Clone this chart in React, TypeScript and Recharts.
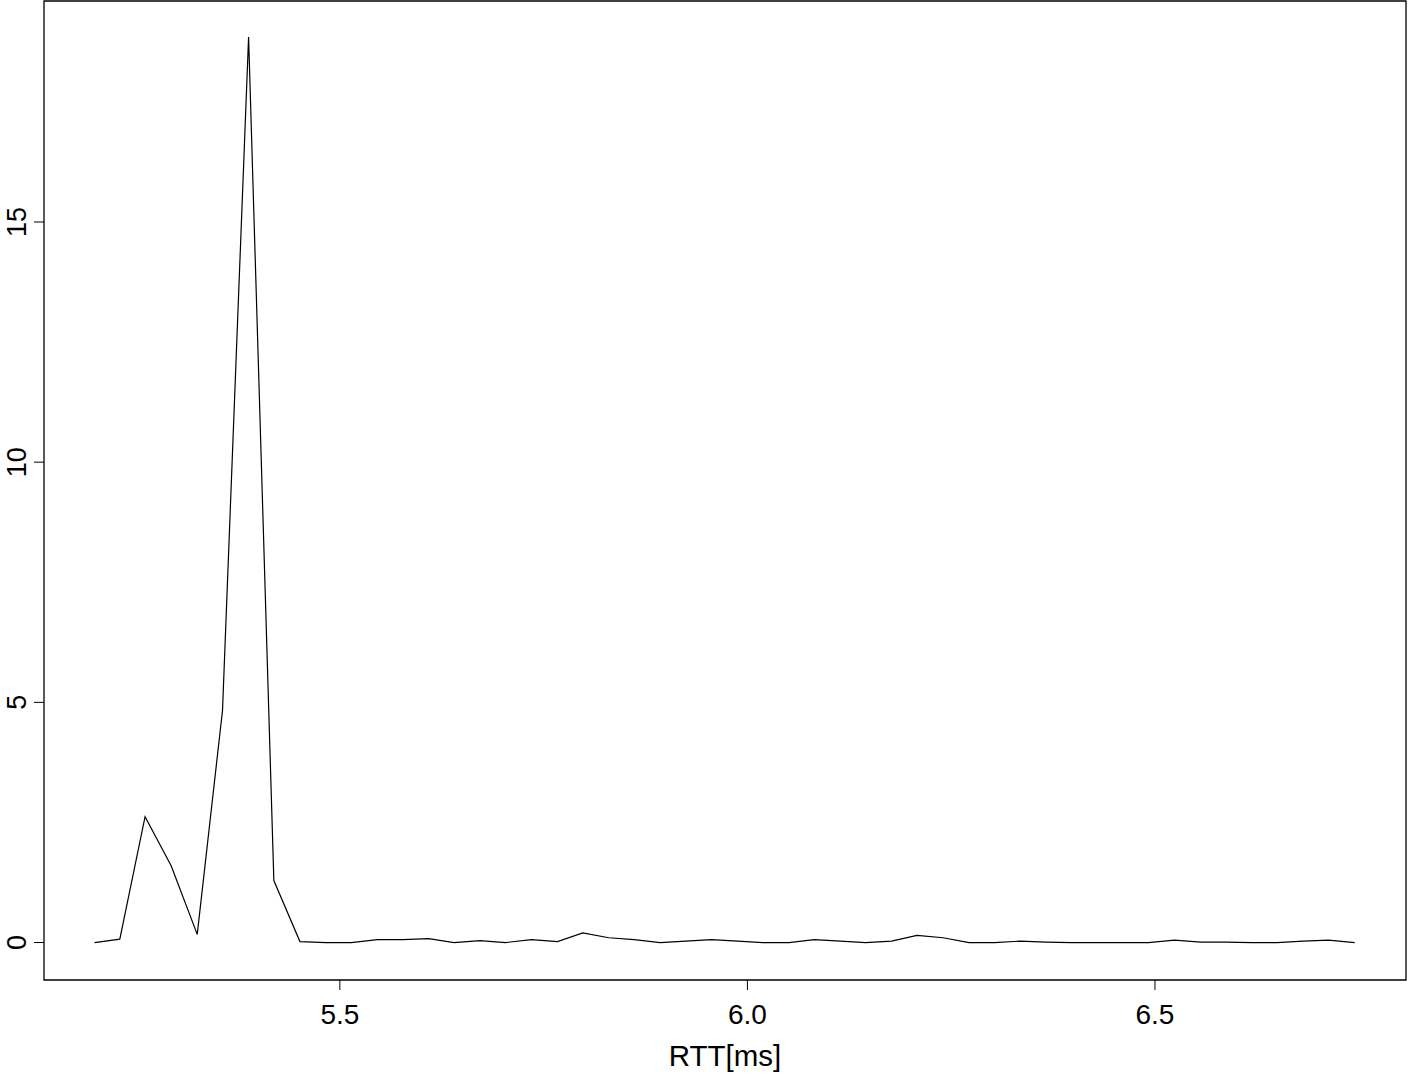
import React from 'react'
import {
  LineChart,
  Line,
  XAxis,
  YAxis,
  ReferenceArea,
} from 'recharts'

// bin centres (ms) and density
const rttValues = [
  5.199, 5.23, 5.261, 5.293, 5.325, 5.356, 5.388, 5.419, 5.451, 5.483,
  5.514, 5.546, 5.577, 5.609, 5.64, 5.672, 5.703, 5.735, 5.767, 5.798,
  5.83, 5.861, 5.893, 5.924, 5.956, 5.988, 6.019, 6.051, 6.082, 6.114,
  6.145, 6.177, 6.208, 6.24, 6.272, 6.303, 6.335, 6.366, 6.398, 6.429,
  6.461, 6.492, 6.524, 6.556, 6.587, 6.619, 6.65, 6.682, 6.713, 6.745,
]
const densityValues = [
  0, 0.07, 2.62, 1.6, 0.17, 4.83, 18.85, 1.29, 0.02, 0,
  0, 0.06, 0.06, 0.08, 0, 0.04, 0, 0.06, 0.02, 0.2,
  0.1, 0.06, 0, 0.03, 0.06, 0.03, 0, 0, 0.06, 0.03,
  0, 0.03, 0.15, 0.1, 0, 0, 0.03, 0.01, 0, 0,
  0, 0, 0.05, 0.01, 0.01, 0, 0, 0.03, 0.05, 0,
]
const xTicks = [5.5, 6.0, 6.5]
const yTicks = [0, 5, 10, 15]
const xDomain: [number, number] = [5.137, 6.808]
const yDomain: [number, number] = [-0.78, 19.6]

const FONT = '"Liberation Sans", Arial, Helvetica, sans-serif'

function YTick(props: any) {
  const { y, payload } = props
  return (
    <text
      x={0}
      y={0}
      transform={`translate(25.5, ${y}) rotate(-90)`}
      textAnchor="middle"
      fontSize={27}
      fontFamily={FONT}
      fill="#000"
    >
      {payload.value}
    </text>
  )
}

export default function App() {
  const data = rttValues.map((rtt, i) => ({ rtt, density: densityValues[i] }))

  return (
    <div style={{ position: 'absolute', left: 0, top: 0, background: '#fff' }}>
      <LineChart
        width={1408}
        height={1076}
        data={data}
        margin={{ top: 1, right: 2, left: 0, bottom: 0 }}
      >
        <XAxis
          dataKey="rtt"
          type="number"
          domain={xDomain}
          ticks={xTicks}
          allowDataOverflow
          height={96}
          axisLine={false}
          tickLine={{ stroke: '#000' }}
          tickSize={10}
          tickMargin={14}
          tickFormatter={(v: number) => v.toFixed(1)}
          tick={{ fontSize: 28, fill: '#000', fontFamily: FONT }}
          label={{
            value: 'RTT[ms]',
            position: 'insideBottom',
            offset: 10,
            fontSize: 29.5,
            fill: '#000',
            fontFamily: FONT,
          }}
        />
        <YAxis
          type="number"
          domain={yDomain}
          ticks={yTicks}
          allowDataOverflow
          width={44}
          axisLine={false}
          tickLine={{ stroke: '#000' }}
          tickSize={10}
          tick={<YTick />}
        />
        <ReferenceArea
          x1={xDomain[0]}
          x2={xDomain[1]}
          y1={yDomain[0]}
          y2={yDomain[1]}
          fill="none"
          stroke="#000"
          strokeWidth={1.3}
          ifOverflow="visible"
        />
        <Line
          type="linear"
          dataKey="density"
          stroke="#000"
          strokeWidth={1.2}
          dot={false}
          isAnimationActive={false}
        />
      </LineChart>
    </div>
  )
}
